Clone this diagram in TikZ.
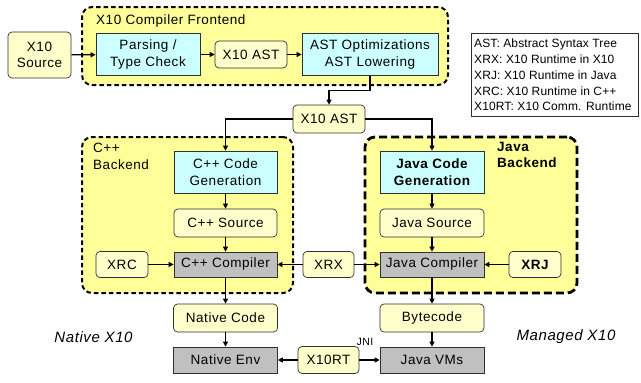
\documentclass[tikz,border=0pt]{standalone}
\usepackage{fontspec}
\setmainfont{Liberation Sans}[LetterSpace=4]
\newfontfamily\legfont{Liberation Sans}[LetterSpace=1]
\usetikzlibrary{arrows.meta}
\definecolor{areaY}{HTML}{FFFF99}
\definecolor{paleY}{HTML}{FFFFCC}
\definecolor{cyanB}{HTML}{CCFFFF}
\definecolor{grayB}{HTML}{C0C0C0}
\definecolor{edgeC}{HTML}{303030}
\tikzset{
  container/.style={draw=black, fill=areaY, line width=2pt, dash pattern=on 4.5pt off 3pt, rounded corners=10pt, inner sep=0pt},
  thickcontainer/.style={container, line width=2.8pt, dash pattern=on 8pt off 4pt},
  palebox/.style={draw=edgeC, fill=paleY, line width=0.7pt, rounded corners=4pt, inner sep=0pt, align=center, font=\fontsize{13.5}{16.5}\selectfont},
  cyanbox/.style={draw=edgeC, fill=cyanB, line width=0.7pt, inner sep=0pt, align=center, font=\fontsize{13.5}{16.5}\selectfont},
  graybox/.style={draw=edgeC, fill=grayB, line width=0.7pt, inner sep=0pt, align=center, font=\fontsize{13.5}{16.5}\selectfont},
  lbl/.style={inner sep=0pt, align=left, font=\fontsize{13.5}{16.5}\selectfont},
  arr/.style={line width=1.2pt, -{Triangle[length=5pt,width=5pt]}},
}
\begin{document}
\begin{tikzpicture}[x=1pt,y=-1pt]
\useasboundingbox[fill=white] (0,0) rectangle (641,383);
% containers
\node[container, minimum width=366pt, minimum height=78pt] (fe) at (265,46) {};
\node[container, minimum width=211pt, minimum height=156pt] (cppb) at (187.5,215) {};
\node[thickcontainer, minimum width=212pt, minimum height=156pt] (javab) at (471,215) {};
\node[lbl, anchor=west] (fetitle) at (96,21) {X10 Compiler Frontend};
\node[lbl, anchor=north west] (cpptitle) at (93,143) {C++\\Backend};
\node[lbl, anchor=north west, font=\fontsize{13.5}{16.5}\selectfont\bfseries] (javatitle) at (497,142) {Java\\Backend};
% frontend
\node[palebox, minimum width=63pt, minimum height=46pt] (src) at (39.5,55) {X10\\Source};
\node[cyanbox, minimum width=104pt, minimum height=42pt] (parse) at (148,54.5) {Parsing /\\Type Check};
\node[palebox, minimum width=72pt, minimum height=27pt] (ast1) at (251,54.5) {X10 AST};
\node[cyanbox, minimum width=136pt, minimum height=42pt] (opt) at (370,54.5) {AST Optimizations\\AST Lowering};
\node[palebox, minimum width=72pt, minimum height=28pt] (ast2) at (329,119) {X10 AST};
% C++ backend
\node[cyanbox, minimum width=103pt, minimum height=42pt] (cppcg) at (225.5,172) {C++ Code\\Generation};
\node[palebox, minimum width=103pt, minimum height=28pt] (cppsrc) at (225.5,223) {C++ Source};
\node[graybox, minimum width=103pt, minimum height=25pt] (cppc) at (225.5,264.5) {C++ Compiler};
\node[palebox, minimum width=52pt, minimum height=26pt] (xrc) at (122,264.5) {XRC};
\node[palebox, minimum width=51pt, minimum height=26pt] (xrx) at (328.5,264.5) {XRX};
% Java backend
\node[cyanbox, minimum width=104pt, minimum height=42pt, font=\fontsize{13.5}{16.5}\selectfont\bfseries] (javacg) at (432,172) {Java Code\\Generation};
\node[palebox, minimum width=104pt, minimum height=28pt] (javasrc) at (432,223) {Java Source};
\node[graybox, minimum width=104pt, minimum height=25pt] (javac) at (432,264.5) {Java Compiler};
\node[palebox, minimum width=52pt, minimum height=26pt, font=\fontsize{13.5}{16.5}\selectfont\bfseries] (xrj) at (535,264.5) {XRJ};
% bottom
\node[palebox, minimum width=104pt, minimum height=28pt] (ncode) at (225.5,318) {Native Code};
\node[graybox, minimum width=104pt, minimum height=26pt] (nenv) at (225.5,360) {Native Env};
\node[palebox, minimum width=61pt, minimum height=27pt] (x10rt) at (328.5,360) {X10RT};
\node[palebox, minimum width=104pt, minimum height=28pt] (bc) at (432,318) {Bytecode};
\node[graybox, minimum width=104pt, minimum height=26pt] (jvm) at (432,360) {Java VMs};
\node[inner sep=0pt, font=\fontsize{10.5}{12}\selectfont] (jni) at (365,342) {JNI};
\node[inner sep=0pt, font=\fontsize{15}{18}\selectfont\itshape] (nx10) at (93.5,337) {Native X10};
\node[inner sep=0pt, font=\fontsize{15}{18}\selectfont\itshape] (mx10) at (566,337) {Managed X10};
% legend
\node[draw=edgeC, line width=0.7pt, fill=white, minimum width=167pt, minimum height=83pt, inner sep=0pt] (leg) at (554.5,74.5) {};
\node[anchor=west, inner sep=0pt, align=left, font=\legfont\fontsize{12}{15.75}\selectfont] (legtext) at (474,75) {AST: Abstract Syntax Tree\\XRX: X10 Runtime in X10\\XRJ: X10 Runtime in Java\\XRC: X10 Runtime in C++\\X10RT: X10 Comm. Runtime};
% connectors
\draw[arr] (src) -- (parse);
\draw[arr] (parse) -- (ast1);
\draw[arr] (ast1) -- (opt);
\draw[arr] (opt.south) -- ++(0,15) -| (ast2.north);
\draw[arr] (ast2.west) -| (cppcg.north);
\draw[arr] (ast2.east) -| (javacg.north);
\draw[arr] (cppcg) -- (cppsrc);
\draw[arr] (cppsrc) -- (cppc);
\draw[arr] (xrc) -- (cppc);
\draw[arr] (xrx) -- (cppc);
\draw[arr] (xrx) -- (javac);
\draw[arr] (xrj) -- (javac);
\draw[arr] (javacg) -- (javasrc);
\draw[arr] (javasrc) -- (javac);
\draw[arr] (cppc) -- (ncode);
\draw[arr] (ncode) -- (nenv);
\draw[arr] (javac) -- (bc);
\draw[arr] (bc) -- (jvm);
\draw[arr] (x10rt) -- (nenv);
\draw[arr] (x10rt) -- (jvm);
\end{tikzpicture}
\end{document}
